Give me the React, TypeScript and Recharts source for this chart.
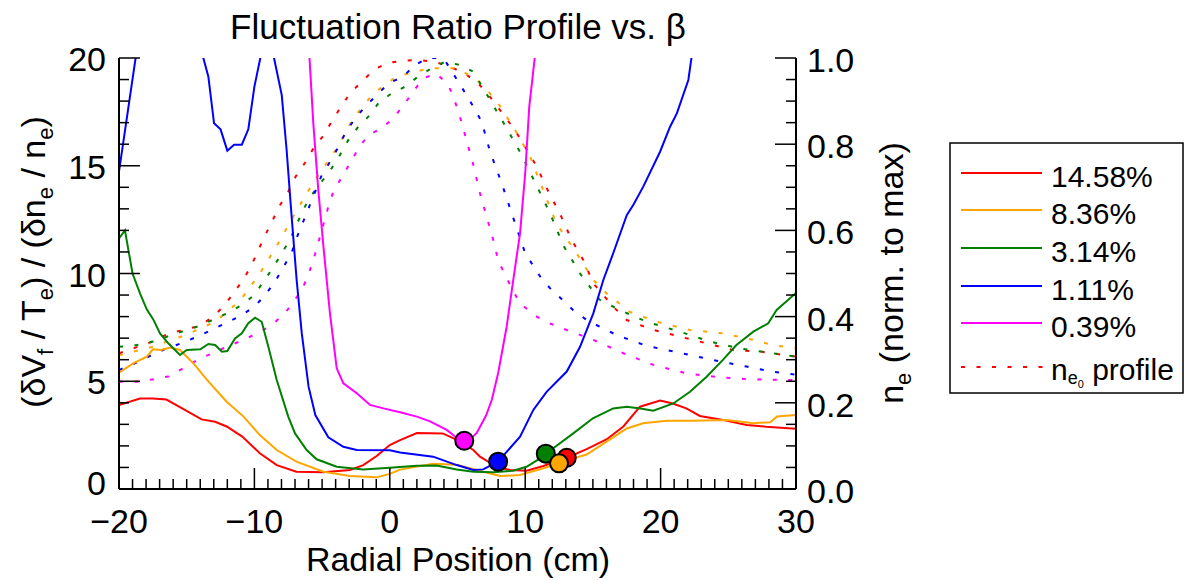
import { LineChart, Line, XAxis, YAxis, ReferenceDot } from 'recharts';

const FONT = "'Liberation Sans', Arial, Helvetica, sans-serif";

// ── data: solid curves, (δVf/Te)/(δne/ne) vs radial position (cm) ────────────

const ratio1458: [number, number][] = [
  [-20, 3.9], [-18.45, 4.2], [-17.5, 4.2], [-16.5, 4.15], [-15.5, 3.8], [-13.9, 3.23],
  [-12.9, 3.12], [-12.05, 2.9], [-10.9, 2.43], [-9.6, 1.66], [-8.35, 1.11], [-6.9, 0.8],
  [-4.9, 0.78], [-2.94, 0.88], [-1.96, 1.11], [-0.97, 1.53], [0, 2.04], [0.76, 2.27],
  [2.0, 2.6], [3.9, 2.58], [5.0, 2.27], [6.17, 1.81], [6.66, 1.5], [7.9, 1.03],
  [8.88, 0.88], [10.1, 0.85], [11.34, 1.07], [13.07, 1.45], [14.54, 1.85], [16.0, 2.3],
  [17.25, 2.9], [18.48, 3.82], [19.96, 4.1], [20.9, 3.97], [21.9, 3.74], [22.9, 3.39],
  [24.4, 3.23], [26.36, 2.97], [27.8, 2.89], [30, 2.8],
];

const ratio836: [number, number][] = [
  [-20, 5.4], [-18.95, 5.83], [-17.95, 6.14], [-17.5, 6.48], [-16.9, 6.45], [-16.2, 6.57],
  [-15.5, 6.45], [-14.5, 5.83], [-13.5, 5.06], [-12.05, 4.05], [-10.8, 3.36], [-9.6, 2.5],
  [-8.35, 1.81], [-6.9, 1.27], [-4.9, 0.8], [-2.94, 0.6], [-0.97, 0.54], [0, 0.7],
  [0.76, 0.9], [3.2, 1.17], [4.94, 1.12], [6.42, 0.88], [8.14, 0.6], [9.6, 0.65],
  [11.34, 0.96], [12.5, 1.19], [13.55, 1.42], [14.54, 1.6], [16.26, 2.3], [17.5, 2.81],
  [18.7, 3.05], [20.45, 3.17], [22.4, 3.17], [24.9, 3.2], [26.85, 3.05], [28.1, 3.1],
  [28.6, 3.36], [30, 3.43],
];

const ratio314: [number, number][] = [
  [-20, 11.63], [-19.56, 12.0], [-19.0, 10.0], [-18.45, 9.08], [-17.95, 8.34], [-17.47, 7.87],
  [-16.97, 7.22], [-16.36, 6.76], [-15.5, 6.22], [-15.0, 6.45], [-14.0, 6.48], [-13.4, 6.73],
  [-12.9, 6.68], [-12.4, 6.37], [-12.0, 6.4], [-11.43, 6.99], [-10.93, 7.22], [-10.45, 7.69],
  [-9.95, 7.95], [-9.46, 7.76], [-8.97, 6.6], [-8.35, 5.06], [-7.5, 3.36], [-7.0, 2.58],
  [-6.14, 1.81], [-5.4, 1.38], [-3.92, 1.03], [-1.96, 0.91], [0, 0.99], [2.0, 1.08],
  [3.45, 1.09], [4.94, 0.91], [6.17, 0.8], [7.64, 0.78], [9.1, 0.85], [10.1, 1.03],
  [11.1, 1.42], [12.07, 1.89], [13.55, 2.58], [15.0, 3.28], [16.5, 3.74], [17.5, 3.82],
  [18.5, 3.74], [19.46, 3.63], [20.94, 3.97], [22.17, 4.51], [23.4, 5.21], [24.6, 5.99],
  [25.6, 6.68], [26.85, 7.3], [27.95, 7.69], [28.57, 8.31], [30, 9.1],
];

const ratio111: [number, number][] = [
  [-20, 14.73], [-18.75, 20.1], [-18.3, 21.5], [-16, 24], [-14.2, 21.5], [-13.77, 20.0],
  [-13.4, 19.13], [-12.98, 16.97], [-12.5, 16.69], [-12.0, 15.7], [-11.5, 15.98],
  [-10.93, 15.98], [-10.45, 16.69], [-10.0, 18.67], [-9.53, 20.1], [-9.0, 22], [-8.55, 20.0],
  [-7.98, 18.28], [-7.62, 15.73], [-7.25, 12.64], [-6.88, 9.7], [-6.5, 7.22], [-6.0, 4.75],
  [-5.5, 3.43], [-4.54, 2.4], [-3.43, 1.96], [-2.44, 1.81], [0, 1.8], [0.76, 1.69],
  [3.2, 1.5], [4.94, 1.11], [6.17, 0.88], [6.9, 0.91], [8.0, 1.27], [9.62, 2.43],
  [10.6, 3.67], [11.58, 4.51], [13.07, 5.45], [14.05, 6.6], [15.03, 8.15], [15.77, 9.7],
  [16.5, 10.94], [17.5, 12.71], [17.98, 13.18], [18.72, 14.03], [19.96, 15.65], [20.7, 16.81],
  [21.2, 17.43], [22.05, 18.98], [22.3, 20.1], [23.0, 22],
];

const ratio039: [number, number][] = [
  [-6.1, 21.5], [-5.94, 20.1], [-5.65, 16.97], [-5.28, 13.87], [-4.9, 11.24], [-4.42, 8.15],
  [-3.92, 5.6], [-3.43, 4.9], [-2.44, 4.44], [-1.46, 3.9], [-0.47, 3.74], [0.76, 3.56],
  [2.0, 3.36], [2.97, 3.14], [4.2, 2.74], [4.94, 2.38], [5.5, 2.22], [6.0, 2.35],
  [6.42, 2.6], [7.1, 3.4], [7.53, 4.13], [8.0, 5.37], [8.63, 7.53], [9.12, 9.7],
  [9.62, 11.87], [10.0, 14.65], [10.3, 17.74], [10.72, 20.1], [10.9, 21.5],
];

// ── data: dotted curves, n_e0 profile normalised to its maximum ──────────────

const ne1458: [number, number][] = [
  [-20, 0.315], [-17.5, 0.342], [-16.4, 0.36], [-14.1, 0.378], [-13.15, 0.397], [-12.3, 0.423],
  [-11.55, 0.454], [-10.8, 0.487], [-10.2, 0.52], [-9.7, 0.555], [-9.2, 0.589], [-8.65, 0.624],
  [-8.1, 0.659], [-7.5, 0.69], [-6.95, 0.725], [-6.26, 0.757], [-5.65, 0.79], [-4.9, 0.82],
  [-4.3, 0.852], [-3.68, 0.883], [-2.94, 0.918], [-2.07, 0.945], [-1.2, 0.972], [-0.23, 0.988],
  [1.0, 0.994], [2.22, 0.995], [3.45, 0.99], [4.4, 0.98], [5.5, 0.965], [6.53, 0.941],
  [7.4, 0.91], [8.14, 0.879], [8.88, 0.848], [9.62, 0.814], [10.85, 0.748], [11.83, 0.682],
  [12.45, 0.647], [13.43, 0.578], [14.3, 0.531], [15.03, 0.477], [16.5, 0.423], [17.5, 0.392],
  [19.46, 0.369], [23.4, 0.338], [25.4, 0.322], [27.34, 0.319], [30, 0.307],
];

const ne836: [number, number][] = [
  [-20, 0.31], [-17.5, 0.33], [-16.2, 0.345], [-15.1, 0.357], [-12.9, 0.388], [-11.06, 0.437],
  [-9.6, 0.5], [-8.35, 0.564], [-7.13, 0.632], [-5.9, 0.698], [-5.28, 0.728], [-3.92, 0.79],
  [-2.7, 0.86], [-1.2, 0.918], [0.5, 0.957], [1.86, 0.968], [2.97, 0.976], [4.94, 0.976],
  [5.43, 0.968], [6.42, 0.949], [7.28, 0.922], [8.0, 0.895], [9.25, 0.833], [10.36, 0.771],
  [12.3, 0.616], [13.8, 0.547], [15.03, 0.485], [16.0, 0.454], [17.74, 0.411], [19.7, 0.388],
  [22.17, 0.369], [24.63, 0.361], [26.85, 0.346], [28.3, 0.334], [30, 0.326],
];

const ne314: [number, number][] = [
  [-20, 0.33], [-18.7, 0.334], [-17.5, 0.342], [-15.4, 0.365], [-14.1, 0.378], [-12.0, 0.408],
  [-10.93, 0.427], [-10.0, 0.45], [-9.34, 0.481], [-8.65, 0.512], [-7.98, 0.547], [-7.37, 0.579],
  [-6.88, 0.613], [-6.39, 0.649], [-5.77, 0.682], [-5.03, 0.713], [-4.3, 0.744], [-3.68, 0.775],
  [-3.06, 0.81], [-2.32, 0.841], [-1.46, 0.868], [-0.85, 0.895], [0.13, 0.918], [1.1, 0.933],
  [2.1, 0.957], [3.08, 0.976], [4.08, 0.991], [5.18, 0.984], [6.17, 0.968], [7.4, 0.903],
  [8.63, 0.837], [9.74, 0.775], [11.83, 0.64], [12.8, 0.566], [14.05, 0.5], [15.5, 0.439],
  [17.0, 0.415], [18.97, 0.388], [21.43, 0.365], [23.65, 0.342], [25.86, 0.326], [28.3, 0.315],
  [30, 0.307],
];

const ne111: [number, number][] = [
  [-20, 0.276], [-18.8, 0.292], [-17.7, 0.309], [-16.5, 0.326], [-15.4, 0.338], [-14.26, 0.353],
  [-13.15, 0.369], [-12.17, 0.384], [-11.06, 0.401], [-10.0, 0.423], [-9.2, 0.45], [-8.48, 0.481],
  [-7.87, 0.514], [-7.25, 0.548], [-6.88, 0.583], [-6.4, 0.62], [-5.9, 0.659], [-5.03, 0.728],
  [-4.42, 0.759], [-3.8, 0.793], [-3.3, 0.825], [-2.57, 0.86], [-1.7, 0.891], [-0.1, 0.941],
  [1.0, 0.957], [1.86, 0.984], [2.85, 1.0], [3.84, 1.0], [4.2, 0.988], [5.43, 0.926],
  [6.17, 0.887], [6.79, 0.852], [7.4, 0.783], [8.27, 0.709], [9.0, 0.64], [10.0, 0.547],
  [11.1, 0.493], [11.83, 0.466], [13.55, 0.415], [14.54, 0.392], [16.76, 0.357], [18.97, 0.332],
  [21.43, 0.316], [23.9, 0.299], [26.36, 0.284], [28.3, 0.272], [30, 0.265],
];

const ne039: [number, number][] = [
  [-20, 0.249], [-18.45, 0.249], [-16.36, 0.261], [-15.25, 0.28], [-14.14, 0.301], [-13.03, 0.316],
  [-11.9, 0.332], [-10.8, 0.346], [-9.7, 0.363], [-8.72, 0.38], [-7.74, 0.408], [-7.0, 0.439],
  [-6.39, 0.469], [-5.9, 0.508], [-5.5, 0.547], [-5.16, 0.585], [-4.54, 0.655], [-4.17, 0.69],
  [-2.94, 0.756], [-2.32, 0.79], [-1.6, 0.821], [-0.6, 0.837], [0.25, 0.86], [1.12, 0.895],
  [1.73, 0.922], [2.47, 0.953], [3.45, 0.964], [4.32, 0.937], [4.7, 0.91], [5.18, 0.864],
  [5.8, 0.794], [6.17, 0.752], [6.66, 0.686], [7.15, 0.632], [7.64, 0.578], [8.0, 0.531],
  [8.5, 0.497], [9.6, 0.431], [10.85, 0.4], [11.83, 0.384], [13.07, 0.369], [15.03, 0.346],
  [17.25, 0.315], [19.46, 0.288], [21.93, 0.268], [24.4, 0.259], [26.85, 0.254], [30, 0.253],
];

// minimum markers (x, ratio), one per beta
const minX = [13.07, 12.5, 11.52, 8.0, 5.5];
const minY = [1.45, 1.19, 1.64, 1.27, 2.24];

const betaLabels = ['14.58%', '8.36%', '3.14%', '1.11%', '0.39%'];
const betaColors = ['#ff0000', '#ffa500', '#008000', '#0000ff', '#ff00ff'];

const xMajor = [-20, -10, 0, 10, 20, 30];
const yLeftMajor = [0, 5, 10, 15, 20];
const yRightMajor = [0, 0.2, 0.4, 0.6, 0.8, 1.0];

// minor ticks: every 1 cm, every 1 unit, every 0.05
const xTicks = Array.from({ length: 51 }, (_, i) => i - 20);
const yLeftTicks = Array.from({ length: 21 }, (_, i) => i);
const yRightTicks = Array.from({ length: 21 }, (_, i) => Math.round(i * 5) / 100);

const ratioSeries = [ratio1458, ratio836, ratio314, ratio111, ratio039];
const neSeries = [ne1458, ne836, ne314, ne111, ne039];

const toPts = (arr: [number, number][]) => arr.map(([x, y]) => ({ x, y }));

// ── ticks (IDL style: drawn inward) ─────────────────────────────────────────

function BottomTick(props: any) {
  const { x, y, payload } = props;
  const v = payload.value as number;
  const major = xMajor.includes(v);
  return (
    <g>
      <line x1={x} x2={x} y1={y} y2={y - (major ? 21 : 10)} stroke="#000" strokeWidth={1.5} />
      {major && (
        <text x={x} y={y + 44} textAnchor="middle" fontSize={34} fontFamily={FONT} fill="#000">
          {v < 0 ? `\u2212${Math.abs(v)}` : v}
        </text>
      )}
    </g>
  );
}

function LeftTick(props: any) {
  const { x, y, payload } = props;
  const v = payload.value as number;
  const major = yLeftMajor.includes(v);
  return (
    <g>
      <line x1={x} x2={x + (major ? 21 : 10)} y1={y} y2={y} stroke="#000" strokeWidth={1.5} />
      {major && (
        <text x={x - 13} y={y + (v === 0 ? 6 : 13)} textAnchor="end" fontSize={34} fontFamily={FONT} fill="#000">
          {v}
        </text>
      )}
    </g>
  );
}

function RightTick(props: any) {
  const { x, y, payload } = props;
  const v = payload.value as number;
  const major = yRightMajor.some((m) => Math.abs(m - v) < 1e-6);
  return (
    <g>
      <line x1={x} x2={x - (major ? 21 : 10)} y1={y} y2={y} stroke="#000" strokeWidth={1.5} />
      {major && (
        <text x={x + 11} y={y + 14} textAnchor="start" fontSize={34} fontFamily={FONT} fill="#000">
          {v.toFixed(1)}
        </text>
      )}
    </g>
  );
}

// ── overlay: title, axis titles, legend ─────────────────────────────────────

function Overlay() {
  const rowY = [173, 210, 248, 286, 323];
  return (
    <svg
      width={1184}
      height={580}
      style={{ position: 'absolute', left: 0, top: 0, pointerEvents: 'none' }}
      fontFamily={FONT}
    >
      <text x={458} y={39} textAnchor="middle" fontSize={35} fill="#000">
        Fluctuation Ratio Profile vs. β
      </text>
      <text x={458} y={571} textAnchor="middle" fontSize={34} fill="#000">
        Radial Position (cm)
      </text>
      <text transform="translate(45,262) rotate(-90)" textAnchor="middle" fontSize={34} fill="#000">
        <tspan>(δV</tspan>
        <tspan fontSize={22} dy={8}>f</tspan>
        <tspan dy={-8}> / T</tspan>
        <tspan fontSize={22} dy={8}>e</tspan>
        <tspan dy={-8}>) / (δn</tspan>
        <tspan fontSize={22} dy={8}>e</tspan>
        <tspan dy={-8}> / n</tspan>
        <tspan fontSize={22} dy={8}>e</tspan>
        <tspan dy={-8}>)</tspan>
      </text>
      <text transform="translate(903,273) rotate(-90)" textAnchor="middle" fontSize={34} fill="#000">
        <tspan>n</tspan>
        <tspan fontSize={22} dy={8}>e</tspan>
        <tspan dy={-8}> (norm. to max)</tspan>
      </text>

      {/* legend */}
      <rect x={950} y={143} width={233} height={250} fill="#fff" stroke="#000" strokeWidth={1.5} />
      {betaLabels.map((lbl, i) => (
        <g key={lbl}>
          <line x1={961} x2={1042} y1={rowY[i]} y2={rowY[i]} stroke={betaColors[i]} strokeWidth={2} />
          <text x={1051} y={rowY[i] + 14} fontSize={30} fill="#000">{lbl}</text>
        </g>
      ))}
      <line x1={961} x2={1045} y1={367} y2={367} stroke="#ff0000" strokeWidth={2} strokeDasharray="4 11.5" />
      <text x={1051} y={380} fontSize={30} fill="#000">
        <tspan>n</tspan>
        <tspan fontSize={18} dy={4}>e</tspan>
        <tspan fontSize={11} dy={4}>0</tspan>
        <tspan fontSize={30} dy={-8}> profile</tspan>
      </text>
    </svg>
  );
}

// ── main ────────────────────────────────────────────────────────────────────

export default function App() {
  return (
    <div style={{ position: 'absolute', left: 0, top: 0, width: 1184, height: 580, background: '#fff' }}>
      <LineChart
        width={1184}
        height={580}
        margin={{ top: 58, right: 288, bottom: 0, left: 0 }}
        style={{ fontFamily: FONT }}
      >
        <XAxis
          type="number"
          dataKey="x"
          domain={[-20, 30]}
          ticks={xTicks}
          interval={0}
          height={91}
          tickSize={0}
          tickMargin={0}
          tickLine={false}
          axisLine={{ stroke: '#000', strokeWidth: 2 }}
          tick={(p: any) => <BottomTick {...p} />}
          allowDataOverflow
        />
        <YAxis
          yAxisId="left"
          type="number"
          domain={[0, 20]}
          ticks={yLeftTicks}
          interval={0}
          width={119}
          tickSize={0}
          tickMargin={0}
          tickLine={false}
          axisLine={{ stroke: '#000', strokeWidth: 2 }}
          tick={(p: any) => <LeftTick {...p} />}
          allowDataOverflow
        />
        <YAxis
          yAxisId="right"
          orientation="right"
          type="number"
          domain={[0, 1]}
          ticks={yRightTicks}
          interval={0}
          width={100}
          tickSize={0}
          tickMargin={0}
          tickLine={false}
          axisLine={{ stroke: '#000', strokeWidth: 2 }}
          tick={(p: any) => <RightTick {...p} />}
          allowDataOverflow
        />

        {neSeries.map((s, i) => (
          <Line
            key={`ne-${i}`}
            yAxisId="right"
            data={toPts(s)}
            dataKey="y"
            type="linear"
            stroke={betaColors[i]}
            strokeWidth={2}
            strokeDasharray="4 11.5"
            dot={false}
            activeDot={false}
            isAnimationActive={false}
          />
        ))}

        {ratioSeries.map((s, i) => (
          <Line
            key={`ratio-${i}`}
            yAxisId="left"
            data={toPts(s)}
            dataKey="y"
            type="linear"
            stroke={betaColors[i]}
            strokeWidth={2}
            dot={false}
            activeDot={false}
            isAnimationActive={false}
          />
        ))}

        {[4, 3, 2, 0, 1].map((i) => (
          <ReferenceDot
            key={`min-${i}`}
            yAxisId="left"
            x={minX[i]}
            y={minY[i]}
            r={9}
            fill={betaColors[i]}
            stroke="#000"
            strokeWidth={2}
          />
        ))}
      </LineChart>
      <Overlay />
    </div>
  );
}
